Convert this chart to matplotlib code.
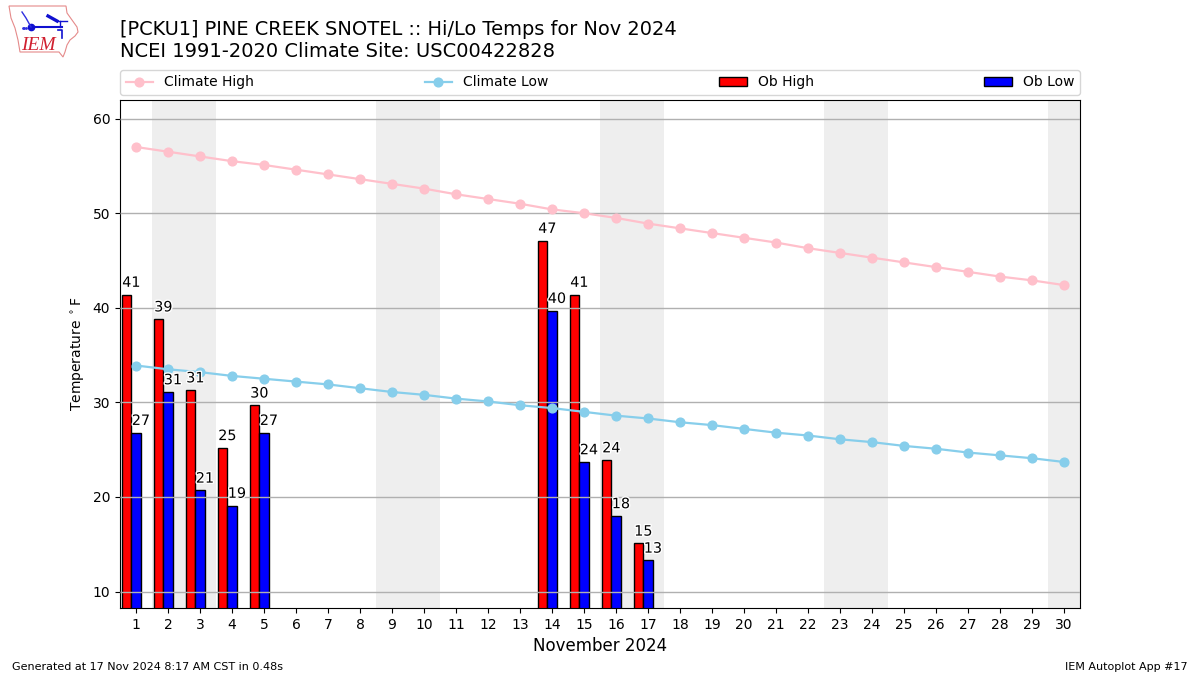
import matplotlib
matplotlib.use("Agg")
import matplotlib.pyplot as plt
import matplotlib.patheffects as PathEffects
from matplotlib.patches import Polygon

days = list(range(1, 31))
climate_high = [57.0, 56.5, 56.0, 55.5, 55.1, 54.6, 54.1, 53.6, 53.1, 52.6,
                52.0, 51.5, 51.0, 50.4, 50.0, 49.5, 48.9, 48.4, 47.9, 47.4,
                46.9, 46.3, 45.8, 45.3, 44.8, 44.3, 43.8, 43.3, 42.9, 42.4]
climate_low = [33.9, 33.5, 33.2, 32.8, 32.5, 32.2, 31.9, 31.5, 31.1, 30.8,
               30.4, 30.1, 29.7, 29.4, 29.0, 28.6, 28.3, 27.9, 27.6, 27.2,
               26.8, 26.5, 26.1, 25.8, 25.4, 25.1, 24.7, 24.4, 24.1, 23.7]
ob_days = [1, 2, 3, 4, 5, 14, 15, 16, 17]
ob_high = [41.4, 38.8, 31.3, 25.2, 29.7, 47.1, 41.4, 23.9, 15.1]
ob_low = [26.8, 31.1, 20.7, 19.1, 26.8, 39.7, 23.7, 18.0, 13.3]
high_labels = [41, 39, 31, 25, 30, 47, 41, 24, 15]
low_labels = [27, 31, 21, 19, 27, 40, 24, 18, 13]
weekends = [(1.5, 3.5), (8.5, 10.5), (15.5, 17.5), (22.5, 24.5), (29.5, 30.5)]

W, H = 1200, 675
fig = plt.figure(figsize=(12, 6.75), dpi=100)
ax = fig.add_axes([120 / W, 1 - 608 / H, 960 / W, 508 / H])

for lo, hi in weekends:
    ax.axvspan(lo, hi, color="#eeeeee", lw=0, zorder=1)

width = 0.3
bars1 = ax.bar([d - 0.3 for d in ob_days], ob_high, width, color="r",
               edgecolor="k", linewidth=1, label="Ob High", zorder=2)
bars2 = ax.bar(ob_days, ob_low, width, color="b",
               edgecolor="k", linewidth=1, label="Ob Low", zorder=2)

ax.grid(axis="y", color="#b0b0b0", linewidth=1, zorder=3)
ax.set_axisbelow(False)

line1, = ax.plot(days, climate_high, color="pink", marker="o", markersize=6.3,
                 linewidth=1.6, label="Climate High", zorder=4)
line2, = ax.plot(days, climate_low, color="skyblue", marker="o", markersize=6.3,
                 linewidth=1.6, label="Climate Low", zorder=4)

# value labels with a white halo
halo = [PathEffects.withStroke(linewidth=2, foreground="white")]
for d, v, s in zip(ob_days, ob_high, high_labels):
    ax.text(d - 0.43, v + 0.5, str(s), ha="left", va="bottom", fontsize=10.3,
            color="k", zorder=6, path_effects=halo)
for d, v, s in zip(ob_days, ob_low, low_labels):
    ax.text(d - 0.13, v + 0.5, str(s), ha="left", va="bottom", fontsize=10.3,
            color="k", zorder=6, path_effects=halo)

ax.set_xlim(0.5, 30.5)
ax.set_ylim(8.266, 61.966)
ax.set_xticks(days)
ax.set_yticks([10, 20, 30, 40, 50, 60])
ax.tick_params(labelsize=10)
ax.set_xlabel("November 2024", fontsize=12)
ax.set_ylabel(r"Temperature $^\circ$F", fontsize=10)

ax.legend(handles=[line1, line2, bars1, bars2], ncol=4, mode="expand",
          loc="lower left", bbox_to_anchor=(0, 1 + 5 / 508, 1, 0.05), borderaxespad=0,
          fontsize=10)

fig.text(120 / W, 1 - 35 / H, "[PCKU1] PINE CREEK SNOTEL :: Hi/Lo Temps for Nov 2024",
         fontsize=13.98, ha="left", va="baseline")
fig.text(120 / W, 1 - 57 / H, "NCEI 1991-2020 Climate Site: USC00422828",
         fontsize=14, ha="left", va="baseline")
fig.text(12 / W, 1 - 670 / H, "Generated at 17 Nov 2024 8:17 AM CST in 0.48s",
         fontsize=8, ha="left", va="baseline")
fig.text(1188 / W, 1 - 670 / H, "IEM Autoplot App #17",
         fontsize=8, ha="right", va="baseline")

# IEM logo, drawn in pixel coordinates
logo = fig.add_axes([0, 1 - 60 / H, 85 / W, 60 / H])
logo.set_xlim(0, 85)
logo.set_ylim(60, 0)
logo.axis("off")
outline = [(9, 6), (66, 6), (67, 13), (72, 20), (77, 27), (78, 32), (75, 36),
           (70, 40), (67, 45), (65, 52), (63, 57), (59, 52), (20, 52), (18, 40),
           (15, 28), (11, 18)]
logo.add_patch(Polygon(outline, closed=True, fill=False, edgecolor="#e58a8a", linewidth=0.8))
logo.plot([31, 62], [27, 27], color="#1010d0", linewidth=1.5)
logo.plot([31], [27], "o", color="#1010d0", markersize=4.5)
logo.plot([22, 26, 31], [12, 18, 27], color="#3030e0", linewidth=1.0)
logo.plot([48, 57], [16, 21], color="#1010d0", linewidth=2.4)
logo.plot([57, 67], [21, 21], color="#1010d0", linewidth=1.0)
logo.plot([60, 60], [21, 27], color="#1010d0", linewidth=1.0)
logo.plot([58, 62, 62], [30, 30, 38], color="#1010d0", linewidth=1.2)
logo.plot([24, 26, 23], [28, 28, 28], ".", color="#3030e0", markersize=2)
logo.text(21, 50, "IEM", family="Liberation Serif", style="italic", fontsize=14,
          color="#d02030", ha="left", va="baseline")

fig.savefig("out.png", dpi=100)
